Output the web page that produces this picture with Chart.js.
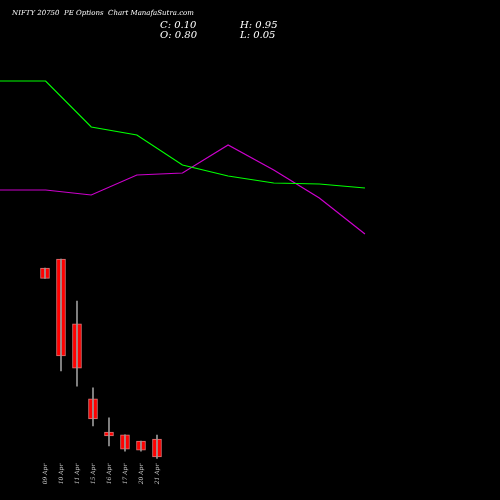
<!DOCTYPE html><html><head><style>html,body{margin:0;background:#000}</style>
<script src="https://cdn.jsdelivr.net/npm/chart.js@4"></script></head><body><canvas id="c" width="500" height="500" style="display:block"></canvas><script>
const dates=['09 Apr','10 Apr','11 Apr','15 Apr','16 Apr','17 Apr','20 Apr','21 Apr'];
const opens=[7.45,7.8,5.28,2.36,1.07,0.96,0.72,0.80];
const closes=[7.05,4.03,3.56,1.58,0.92,0.41,0.37,0.10];
const highs=[7.45,7.8,6.17,2.79,1.62,0.96,0.72,0.95];
const lows=[7.05,3.45,2.86,1.31,0.53,0.33,0.33,0.05];
const greenLine=[81,81,127,135,165,176,183,184,188];
const magentaLine=[190,190,195,175,173,145,170,198,234];
const idx=dates.map((d,i)=>i);
const labelPlugin={id:'lbl',afterDraw(ch){const c=ch.ctx,x=ch.scales.x;c.save();
c.fillStyle='#fff';c.font='italic 7px "DejaVu Serif", serif';c.fillText('NIFTY 20750  PE Options  Chart ManafaSutra.com',12,15);
c.font='italic 10px "DejaVu Serif", serif';c.fillText('C: 0.10',160,28);c.fillText('O: 0.80',160,38);c.fillText('H: 0.95',240,28);c.fillText('L: 0.05',240,38);
c.fillStyle='#ccc';c.font='italic 6px "DejaVu Serif", serif';
dates.forEach((d,i)=>{c.save();c.translate(x.getPixelForValue(i)+2,474);c.rotate(-Math.PI/2);c.textAlign='center';c.fillText(d,0,0);c.restore();});
c.restore();}};
new Chart(document.getElementById('c'),{type:'bar',data:{datasets:[
{type:'line',data:greenLine.map((v,i)=>({x:i,y:v})),xAxisID:'x2',yAxisID:'y2',borderColor:'#00ff00',borderWidth:1.2,pointRadius:0,tension:0},
{type:'line',data:magentaLine.map((v,i)=>({x:i,y:v})),xAxisID:'x2',yAxisID:'y2',borderColor:'#cc00cc',borderWidth:1.2,pointRadius:0,tension:0},
{data:idx.map(i=>({x:i,y:[lows[i],highs[i]]})),backgroundColor:'#999',barThickness:1,grouped:false},
{data:idx.map(i=>({x:i,y:[opens[i],closes[i]]})),backgroundColor:'#ff0000',borderColor:'#d77',borderWidth:1,borderSkipped:false,barThickness:9,grouped:false}
]},options:{animation:false,responsive:false,devicePixelRatio:1,layout:{padding:0},plugins:{legend:{display:false},tooltip:{enabled:false}},
scales:{x:{type:'linear',offset:false,display:false,min:-2.8125,max:28.44},y:{display:false,min:-1.572,max:17.88},
x2:{type:'linear',offset:false,display:false,min:0,max:10.96},y2:{display:false,reverse:true,min:0,max:500}}},plugins:[labelPlugin]});
</script></body></html>
